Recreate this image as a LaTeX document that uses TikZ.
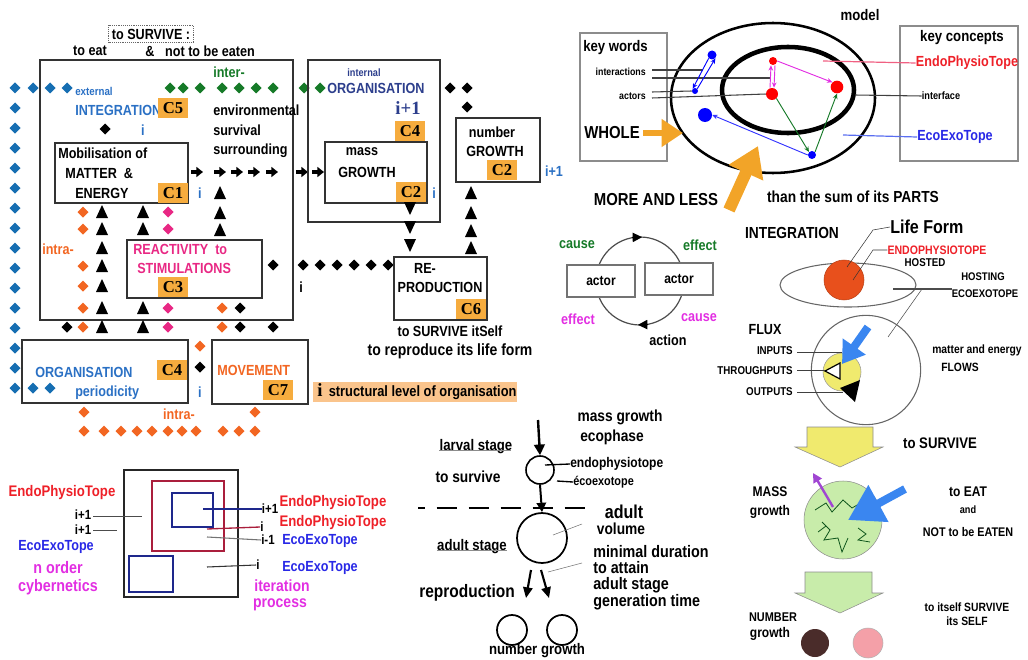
\documentclass[tikz,border=0pt]{standalone}
\usepackage{fontspec}
\setmainfont{Liberation Sans}[FakeStretch=0.86]
\newfontfamily\serifbf{Liberation Serif}
\usetikzlibrary{arrows.meta}

\definecolor{badgeorange}{RGB}{246,172,62}
\definecolor{hlorange}{RGB}{250,196,140}
\definecolor{diablue}{RGB}{22,110,178}
\definecolor{txtblue}{RGB}{42,112,196}
\definecolor{navy}{RGB}{44,62,140}
\definecolor{leafgreen}{RGB}{22,122,40}
\definecolor{diaorange}{RGB}{242,102,34}
\definecolor{rosepink}{RGB}{232,40,132}
\definecolor{topered}{RGB}{238,32,40}
\definecolor{cybmagenta}{RGB}{226,46,226}
\definecolor{ecoblue}{RGB}{40,40,230}
\definecolor{arrorange}{RGB}{242,164,40}
\definecolor{lightgreen}{RGB}{200,236,170}
\definecolor{sunyellow}{RGB}{240,234,110}
\definecolor{boxred}{RGB}{170,30,60}
\definecolor{boxblue}{RGB}{30,40,140}
\definecolor{linepink}{RGB}{240,96,130}
\definecolor{lineblue}{RGB}{90,110,240}
\definecolor{flowblue}{RGB}{58,134,240}
\definecolor{lifered}{RGB}{232,80,28}
\definecolor{seedbrown}{RGB}{74,44,42}
\definecolor{seedpink}{RGB}{244,160,168}
\definecolor{violet}{RGB}{160,70,210}

\newcommand{\fsz}[1]{\fontsize{#1}{#1}\selectfont}
\newcommand{\dmd}[3]{\fill[#1] (#2,#3-5.5) -- (#2+5.5,#3) -- (#2,#3+5.5) -- (#2-5.5,#3) -- cycle;}
\newcommand{\trup}[2]{\fill (#1-6,#2+6) -- (#1+6,#2+6) -- (#1,#2-7) -- cycle;}
\newcommand{\trdn}[2]{\fill (#1-6,#2-6) -- (#1+6,#2-6) -- (#1,#2+7) -- cycle;}
\newcommand{\rarr}[2]{\draw[line width=2.3pt,-{Triangle[length=5pt,width=7.5pt]}] (#1-6,#2) -- (#1+6,#2);}

\begin{document}
\begin{tikzpicture}[%
      x=0.75pt, y=-0.75pt,
      every node/.style={inner sep=0pt},
      lbl/.style={font=\bfseries\fsz{11}},
      tinylbl/.style={font=\bfseries\fsz{7.7}},
      box/.style={draw=black!80, line width=1.1pt},
      graybox/.style={draw=black!45, line width=0.8pt},
      badge/.style={fill=badgeorange, font=\serifbf\bfseries\fsz{12.5}, minimum width=22pt, minimum height=14.5pt},
      dot/.style={circle, inner sep=0pt},
      thinarr/.style={line width=0.7pt, -{Stealth[length=4pt,width=3.5pt]}},
      ]
      \useasboundingbox (0,0) rectangle (1028,660);

      % ---- survival system, top left
      \node[lbl, draw=black!60, densely dotted, inner sep=2.5pt] (survive) at (151,34) {to SURVIVE :};
      \node[lbl] (toeat) at (90,51) {to eat};
      \node[lbl] (amp) at (150,51) {\&};
      \node[lbl] (noteaten) at (210,51) {not to be eaten};
      \draw[box] (40,60) rectangle (293,320);

      \foreach \y in {88,108,...,388} {\dmd{diablue}{15}{\y}}
      \foreach \x in {33,50,67} {\dmd{diablue}{\x}{88}}
      \foreach \x in {33,50} {\dmd{diablue}{\x}{388}}

      \node[lbl, txtblue, font=\bfseries\fsz{8.5}, anchor=west] (external) at (75,91) {external};
      \node[lbl, txtblue, anchor=west] (integ) at (75,110) {INTEGRATION};
      \node[badge] (c5) at (173,108) {C5};
      \dmd{black}{105}{129}
      \node[lbl, txtblue] (ilev1) at (143,130) {i};

      \draw[box] (55,143) rectangle (188,203);
      \node[lbl, anchor=west] (mobil) at (58,153) {Mobilisation of};
      \node[lbl, anchor=west] (matter) at (65,173) {MATTER \ \&};
      \node[lbl, anchor=west] (energy) at (75,193) {ENERGY};
      \node[badge] (c1) at (173,193) {C1};
      \node[lbl, txtblue] (ilev2) at (200,193) {i};

      \node[lbl, leafgreen, anchor=west] (inter) at (213,72) {inter-};
      \foreach \x in {170,183,200,222,239,256,273,304,320} {\dmd{leafgreen}{\x}{88}}
      \node[lbl, anchor=west] (envir) at (213,110) {environmental};
      \node[lbl, anchor=west] (surviv) at (213,130) {survival};
      \node[lbl, anchor=west] (surround) at (213,151) {surrounding};
      \foreach \x in {197,220,237,254,272,302,318} {\rarr{\x}{172}}
      \foreach \y in {193,213,230} {\trup{220}{\y}}

      \foreach \y in {212,229,248,266,286,308,327} {\trup{102}{\y}}
      \foreach \y in {212,229,308,327} {\trup{143}{\y}\dmd{rosepink}{168}{\y}}
      \foreach \y in {212,229,266,286,308,327} {\dmd{diaorange}{83}{\y}}
      \node[lbl, diaorange, anchor=west] (intraA) at (42,249) {intra-};

      \draw[box] (127,240) rectangle (262,298);
      \node[lbl, rosepink, anchor=west] (react) at (133,249) {REACTIVITY \ to};
      \node[lbl, rosepink, anchor=west] (stim) at (137,268) {STIMULATIONS};
      \node[badge] (c3) at (173,287) {C3};
      \dmd{black}{273}{265}
      \foreach \y in {308,327} {\dmd{diaorange}{222}{\y}\dmd{black}{240}{\y}}
      \dmd{black}{67}{327}
      \dmd{black}{273}{327}

      \draw[box] (22,340) rectangle (188,403);
      \node[lbl, txtblue, anchor=west] (orgA) at (35,372) {ORGANISATION};
      \node[lbl, txtblue, anchor=west] (period) at (75,393) {periodicity};
      \node[badge] (c4a) at (172,370) {C4};
      \dmd{diaorange}{200}{346}
      \dmd{black}{200}{367}
      \node[lbl, txtblue] (ilev3) at (200,392) {i};

      \draw[box] (212,340) rectangle (308,404);
      \node[lbl, diaorange, anchor=west] (move) at (217,370) {MOVEMENT};
      \node[badge] (c7) at (278,390) {C7};
      \node[fill=hlorange, minimum width=153pt, minimum height=15pt, anchor=west] (legend) at (313,392) {};
      \node[anchor=west] (legtext) at (317,392) {{\serifbf\bfseries\fsz{14}i}\ \ \bfseries\fsz{11.2}structural level of organisation};

      \node[lbl, diaorange] (intraB) at (179,414) {intra-};
      \foreach \x in {84,255} {\dmd{diaorange}{\x}{412}}
      \foreach \x in {84,104,121,137,152,168,182,196,223,239,255} {\dmd{diaorange}{\x}{431}}

      \draw[box] (308,60) rectangle (440,222);
      \node[lbl, navy, font=\bfseries\fsz{8}] (internal) at (364,73) {internal};
      \node[lbl, navy, anchor=west] (orgB) at (327,88) {ORGANISATION};
      \node[navy, font=\serifbf\bfseries\fsz{14}] (iplus) at (408,108) {i+1};
      \node[badge] (c4b) at (410,131) {C4};
      \draw[box] (325,142) rectangle (427,203);
      \node[lbl] (mass) at (362,152) {mass};
      \node[lbl] (growthA) at (367,172) {GROWTH};
      \node[badge] (c2a) at (411,192) {C2};
      \node[lbl, txtblue] (ilev4) at (434,193) {i};
      \dmd{black}{450}{88}
      \dmd{black}{467}{88}
      \dmd{black}{467}{107}

      \draw[box] (456,118) rectangle (540,182);
      \node[lbl] (number) at (492,132) {number};
      \node[lbl] (growthB) at (495,151) {GROWTH};
      \node[badge] (c2b) at (502,170) {C2};
      \node[lbl, txtblue] (iplusb) at (554,171) {i+1};

      \foreach \y in {208,227,245} {\trdn{410}{\y}}
      \foreach \y in {193,213,231,248} {\trup{471}{\y}}
      \foreach \x in {303,320,337,354,371,388} {\dmd{black}{\x}{265}}
      \node[lbl] (ilev5) at (301,287) {i};

      \draw[box] (394,257) rectangle (487,320);
      \node[lbl] (re) at (425,268) {RE-};
      \node[lbl] (product) at (440,287) {PRODUCTION};
      \node[badge] (c6) at (471,309) {C6};
      \node[lbl] (itself) at (450,331) {to SURVIVE itSelf};
      \node[lbl, font=\bfseries\fsz{12.2}] (lifeform) at (450,351) {to reproduce its life form};

      % ---- cybernetic levels, bottom left
      \draw[line width=1.3pt, black!85] (124,470) rectangle (238,597);
      \draw[line width=1.3pt, boxred] (152,481) rectangle (224,551);
      \draw[line width=1.3pt, boxblue] (172,493) rectangle (213,527);
      \draw[line width=1.3pt, boxblue] (129,556) rectangle (173,592);
      \node[lbl, topered, font=\bfseries\fsz{11.5}] (endoL) at (62,493) {EndoPhysioTope};
      \node[lbl, font=\bfseries\fsz{10}] (ipA) at (83,515) {i+1};
      \node[lbl, font=\bfseries\fsz{10}] (ipB) at (83,530) {i+1};
      \draw[black!70] (ipA.east) ++(2,1) -- (142,516);
      \draw[black!70] (ipB.east) ++(2,0) -- (117,530);
      \node[lbl, ecoblue] (ecoL) at (56,547) {EcoExoTope};
      \node[lbl, cybmagenta, font=\bfseries\fsz{12.5}] (norder) at (58,568) {n order};
      \node[lbl, cybmagenta, font=\bfseries\fsz{12.5}] (cyber) at (58,587) {cybernetics};

      \node[lbl, font=\bfseries\fsz{10}] (ipC) at (270,509) {i+1};
      \node[lbl, font=\bfseries\fsz{10}] (iC) at (262,527) {i};
      \node[lbl, font=\bfseries\fsz{10}] (imC) at (268,540) {i-1};
      \node[lbl, font=\bfseries\fsz{10}] (iD) at (258,565) {i};
      \draw[line width=1pt, boxblue] (203,509) -- (ipC.west);
      \draw[line width=1pt, boxred] (207,529) -- (iC.west);
      \draw[line width=0.8pt, black!55] (207,537) -- (imC.west);
      \draw[line width=0.8pt, black!80] (207,567) -- (iD.west);
      \node[lbl, topered, font=\bfseries\fsz{11.5}] (endoR1) at (333,503) {EndoPhysioTope};
      \node[lbl, topered, font=\bfseries\fsz{11.5}] (endoR2) at (333,523) {EndoPhysioTope};
      \node[lbl, ecoblue] (ecoR1) at (320,541) {EcoExoTope};
      \node[lbl, ecoblue] (ecoR2) at (320,568) {EcoExoTope};
      \node[lbl, cybmagenta, font=\bfseries\fsz{12.2}] (iter) at (282,586) {iteration};
      \node[lbl, cybmagenta, font=\bfseries\fsz{12.2}] (process) at (280,605) {process};

      % ---- life cycle, bottom middle
      \node[lbl, font=\bfseries\fsz{12}] (massgr) at (620,417) {mass growth};
      \node[lbl, font=\bfseries\fsz{12}] (ecoph) at (612,437) {ecophase};
      \node[lbl, font=\bfseries\fsz{11.5}] (larvst) at (476,447) {larval stage};
      \draw[black!45, line width=1pt] (larvst.south west) ++(0,-4) -- ++(72,0);
      \node[lbl, font=\bfseries\fsz{12}] (tosurv) at (468,477) {to survive};
      \coordinate (fall) at (538,420);
      \node[draw, circle, line width=1.2pt, minimum size=21pt] (larva) at (540,470) {};
      \draw[line width=1.8pt, -{Triangle[length=8pt,width=8pt]}] (fall) -- (larva.north);
      \node[lbl, font=\bfseries\fsz{10.5}, anchor=west] (endoph) at (570,464) {endophysiotope};
      \node[lbl, font=\bfseries\fsz{9.5}, anchor=west] (ecoex) at (573,482) {écoexotope};
      \draw[line width=1pt] (545,465) -- (endoph.west);
      \draw[line width=1pt] (557,481) -- (ecoex.west);
      \draw[line width=1.6pt, dash pattern=on 15pt off 9pt, dash phase=10pt] (418,508) -- (590,508);
      \node[draw, circle, line width=1.3pt, minimum size=37.5pt] (adult) at (542,538) {};
      \draw[line width=1.5pt, -{Triangle[length=7pt,width=7pt]}] (larva.south) -- (adult.north);
      \node[font=\bfseries\fsz{14}] (adultt) at (624,512) {adult};
      \node[lbl, font=\bfseries\fsz{12}] (volume) at (621,529) {volume};
      \node[lbl, font=\bfseries\fsz{12.5}] (mindur) at (651,552) {minimal duration};
      \node[lbl, font=\bfseries\fsz{12.5}, anchor=west] (attain) at (593,568) {to attain};
      \node[lbl, font=\bfseries\fsz{12.5}, anchor=west] (adstage) at (593,585) {adult stage};
      \node[lbl, font=\bfseries\fsz{12.5}, anchor=west] (gentime) at (593,602) {generation time};
      \draw[black!55] (553,535) -- (582,524);
      \draw[black!55] (548,572) -- (582,563);
      \node[lbl, font=\bfseries\fsz{11.5}] (adultst) at (472,547) {adult stage};
      \draw[black!45, line width=1pt] (adultst.south west) ++(0,-4) -- ++(70,0);
      \node[lbl, font=\bfseries\fsz{13.5}] (repro) at (467,593) {reproduction};
      \coordinate (rA) at (531,570);
      \coordinate (rB) at (541,570);
      \coordinate (rC) at (526,598);
      \coordinate (rD) at (549,598);
      \draw[line width=1.6pt, -{Triangle[length=8pt,width=7pt]}] (rA) -- (rC);
      \draw[line width=1.6pt, -{Triangle[length=8pt,width=7pt]}] (rB) -- (rD);
      \node[draw, circle, line width=1.3pt, minimum size=22.5pt] (childA) at (512,630) {};
      \node[draw, circle, line width=1.3pt, minimum size=22.5pt] (childB) at (562,630) {};
      \node[lbl, font=\bfseries\fsz{11.5}] (numgr) at (537,651) {number growth};

      % ---- model, top right
      \node[lbl, font=\bfseries\fsz{11.5}] (model) at (860,15) {model};
      \draw[graybox] (580,33) rectangle (667,161);
      \node[lbl, font=\bfseries\fsz{11.5}, anchor=west] (keywords) at (583,48) {key words};
      \node[tinylbl, anchor=east] (interact) at (646,72) {interactions};
      \node[tinylbl, anchor=east] (actorsw) at (646,96) {actors};
      \node[lbl, font=\bfseries\fsz{13}, anchor=west] (whole) at (584,133) {WHOLE};
      \draw[graybox] (900,26) rectangle (1018,161);
      \node[lbl, font=\bfseries\fsz{11.5}] (keycon) at (962,38) {key concepts};
      \node[lbl, topered] (endoK) at (967,63) {EndoPhysioTope};
      \node[lbl, ecoblue] (ecoK) at (955,137) {EcoExoTope};
      \node[tinylbl, font=\bfseries\fsz{8}] (interf) at (941,96) {interface};

      \draw[line width=1.9pt] (773,98) ellipse [x radius=76.5pt, y radius=56.25pt];
      \draw[line width=3.4pt] (788,90) ellipse [x radius=49.5pt, y radius=32.25pt];

      \node[dot, fill=blue, minimum size=6.75pt] (b1) at (712,55) {};
      \node[dot, fill=blue, minimum size=4.5pt] (b2) at (695,91) {};
      \node[dot, fill=blue, minimum size=10.5pt] (b3) at (705,115) {};
      \node[dot, fill=blue, minimum size=6pt] (b4) at (812,155) {};
      \node[dot, fill=red, minimum size=6pt] (r1) at (773,61) {};
      \node[dot, fill=red, minimum size=9pt] (r2) at (772,94) {};
      \node[dot, fill=red, minimum size=9.5pt] (r3) at (837,87) {};

      \draw[black!75, line width=0.8pt] (652,70) -- (703,70);
      \draw[black!75, line width=0.8pt] (652,78) -- (r1.south west |- 0,78);
      \draw[black!75, line width=0.8pt] (652,92) -- (b2.west);
      \draw[black!75, line width=0.8pt] (652,98) -- (r2.west);
      \draw[black!75, line width=0.8pt] (855,95) -- (interf.west);
      \draw[linepink, line width=0.9pt] (823,61) -- (endoK.west);
      \draw[lineblue, line width=0.9pt] (843,135) -- (ecoK.west);

      \draw[thinarr, blue] (b2.north east) -- (b1.south east);
      \draw[thinarr, blue] (b1.south west) -- (b2.north west);
      \draw[thinarr, cybmagenta] ([xshift=-1.5pt]r2.north) -- ([xshift=-1.5pt]r1.south);
      \draw[thinarr, cybmagenta] ([xshift=1.5pt]r1.south) -- ([xshift=1.5pt]r2.north);
      \draw[thinarr, cybmagenta] (r1.east) -- (r3.north west);
      \draw[thinarr, leafgreen] (r2.south east) -- (b4.north west);
      \draw[thinarr, leafgreen] (b4.north east) -- (r3.south);
      \draw[thinarr, blue!80] (b4.west) -- (b3.east);

      \draw[arrorange, line width=4.5pt, -{Triangle[length=16pt,width=20pt]}] (whole.east) ++(3,0) -- (683,133);
      \node[lbl, font=\bfseries\fsz{13}] (moreless) at (656,200) {MORE AND LESS};
      \node[lbl, font=\bfseries\fsz{12}] (sumparts) at (853,197) {than the sum of its PARTS};
      \coordinate (bigtail) at (729,210);
      \coordinate (bigtip) at (758,146);
      \draw[arrorange, line width=9pt, -{Triangle[length=22pt,width=27pt]}] (bigtail) -- (bigtip);

      % ---- cause and effect
      \draw[line width=0.9pt, black!70] (640,281) circle (33pt);
      \draw[-{Triangle[length=7pt,width=7pt]}, line width=0.9pt] (632,237.4) -- (642,237.2);
      \draw[-{Triangle[length=7pt,width=7pt]}, line width=0.9pt] (648,324.6) -- (638,324.8);
      \node[draw=black!55, fill=white, line width=0.8pt, minimum width=51pt, minimum height=24pt, lbl, font=\bfseries\fsz{10.5}] (actorL) at (601,281) {actor};
      \node[draw=black!55, fill=white, line width=0.8pt, minimum width=51pt, minimum height=24pt, lbl, font=\bfseries\fsz{10.5}] (actorR) at (679,279) {actor};
      \node[lbl, leafgreen] (causeA) at (577,245) {cause};
      \node[lbl, leafgreen] (effectA) at (700,245) {effect};
      \node[lbl, cybmagenta] (effectB) at (578,319) {effect};
      \node[lbl, cybmagenta] (causeB) at (699,318) {cause};
      \node[lbl] (action) at (668,340) {action};

      % ---- integration and flux
      \node[lbl, font=\bfseries\fsz{12}] (integr) at (792,233) {INTEGRATION};
      \node[font=\bfseries\fsz{14}, anchor=west] (lifef) at (890,227) {Life Form};
      \draw[black!60, line width=0.8pt] (848,285) ellipse [x radius=51pt, y radius=16.5pt];
      \node[dot, fill=lifered, draw=lifered!80!black, minimum size=30pt] (organism) at (844,280) {};
      \node[lbl, topered, font=\bfseries\fsz{9.2}] (endoI) at (937,250) {ENDOPHYSIOTOPE};
      \node[lbl, font=\bfseries\fsz{8.5}] (hosted) at (925,263) {HOSTED};
      \node[lbl, font=\bfseries\fsz{8.3}] (hosting) at (983,277) {HOSTING};
      \node[lbl, font=\bfseries\fsz{8.3}] (ecoI) at (985,294) {ECOEXOTOPE};
      \draw[black!80] (lifef.west) -- (873,230) -- (847,267);
      \draw[black!80] (endoI.west) -- (873,250) -- (853,280);
      \coordinate (hostjoin) at (922,289);
      \draw[black!70, line width=1pt] (893,289) -- (ecoI.west |- 0,289);
      \draw[black!70] (hostjoin) -- (888,337);

      \draw[black!60, line width=0.8pt] (866,370) circle (41pt);
      \node[dot, fill=sunyellow, draw=black!40, minimum size=28.5pt] (cell) at (842,372) {};
      \draw[line width=0.9pt, fill=white] (825,371) -- (840,363) -- (840,379) -- cycle;
      \fill (840,388) -- (860,380) -- (855,402) -- cycle;
      \coordinate (intail) at (868,327);
      \coordinate (intip) at (842,364);
      \draw[flowblue, line width=6pt, -{Triangle[length=16pt,width=20pt]}] (intail) -- (intip);
      \node[lbl] (flux) at (765,330) {FLUX};
      \node[lbl, font=\bfseries\fsz{8.5}, anchor=east] (inputs) at (793,351) {INPUTS};
      \node[lbl, font=\bfseries\fsz{8.5}, anchor=east] (through) at (793,371) {THROUGHPUTS};
      \node[lbl, font=\bfseries\fsz{8.5}, anchor=east] (outputs) at (793,392) {OUTPUTS};
      \draw[black!75] (inputs.east) ++(4,1) -- (842,352);
      \draw[black!75] (through.east) ++(4,-1) -- (825,370);
      \draw[black!75] (outputs.east) ++(4,0) -- (843,392);
      \node[lbl, font=\bfseries\fsz{9}] (matenergy) at (977,350) {matter and energy};
      \node[lbl, font=\bfseries\fsz{9}] (flows) at (960,367) {FLOWS};

      % ---- survival and growth, bottom right
      \draw[fill=sunyellow, draw=black!45] (807,427) -- (873,427) -- (873,447) -- (883,447) -- (840,467) -- (795,447) -- (807,447) -- cycle;
      \node[lbl, font=\bfseries\fsz{11.5}] (tosurvB) at (940,443) {to SURVIVE};
      \node[dot, fill=lightgreen, draw=black!45, minimum size=58.5pt] (massball) at (843,520) {};
      \draw[leafgreen!70!black, line width=0.6pt] (815,510) -- (826,503) -- (832,512) -- (843,500) -- (852,508) -- (864,501);
      \draw[leafgreen!70!black, line width=0.6pt] (822,522) -- (830,530) -- (824,540) -- (838,538) -- (842,552) -- (848,538);
      \draw[leafgreen!70!black, line width=0.6pt] (858,528) -- (866,534) -- (858,540) -- (870,542);
      \draw[leafgreen!70!black, line width=0.6pt] (818,532) -- (826,526);
      \draw[violet, line width=1.8pt, -{Triangle[length=7pt,width=7pt]}] (833,507) -- (813,473);
      \coordinate (eattail) at (905,489);
      \coordinate (eattip) at (848,520);
      \draw[flowblue, line width=6pt, -{Triangle[length=26pt,width=30pt]}] (eattail) -- (eattip);
      \node[lbl, font=\bfseries\fsz{10.5}] (massB) at (770,492) {MASS};
      \node[lbl, font=\bfseries\fsz{10.5}] (growthC) at (770,512) {growth};
      \node[lbl, font=\bfseries\fsz{10.5}] (toeatB) at (968,492) {to EAT};
      \node[lbl, font=\bfseries\fsz{8}] (andB) at (968,510) {and};
      \node[lbl, font=\bfseries\fsz{9.4}] (noteatB) at (968,532) {NOT to be EATEN};
      \draw[fill=lightgreen, draw=black!45] (805,572) -- (872,572) -- (872,593) -- (883,593) -- (840,613) -- (795,593) -- (805,593) -- cycle;
      \node[lbl, font=\bfseries\fsz{9.5}] (numB) at (773,617) {NUMBER};
      \node[lbl, font=\bfseries\fsz{10.5}] (growthD) at (770,634) {growth};
      \node[dot, fill=seedbrown, minimum size=21pt] (seedA) at (815,643) {};
      \node[dot, fill=seedpink, draw=black!30, minimum size=22.5pt] (seedB) at (868,643) {};
      \node[lbl, font=\bfseries\fsz{9}] (itselfB) at (967,607) {to itself SURVIVE};
      \node[lbl, font=\bfseries\fsz{9}] (selfB) at (967,621) {its SELF};
      \end{tikzpicture}
\end{document}
